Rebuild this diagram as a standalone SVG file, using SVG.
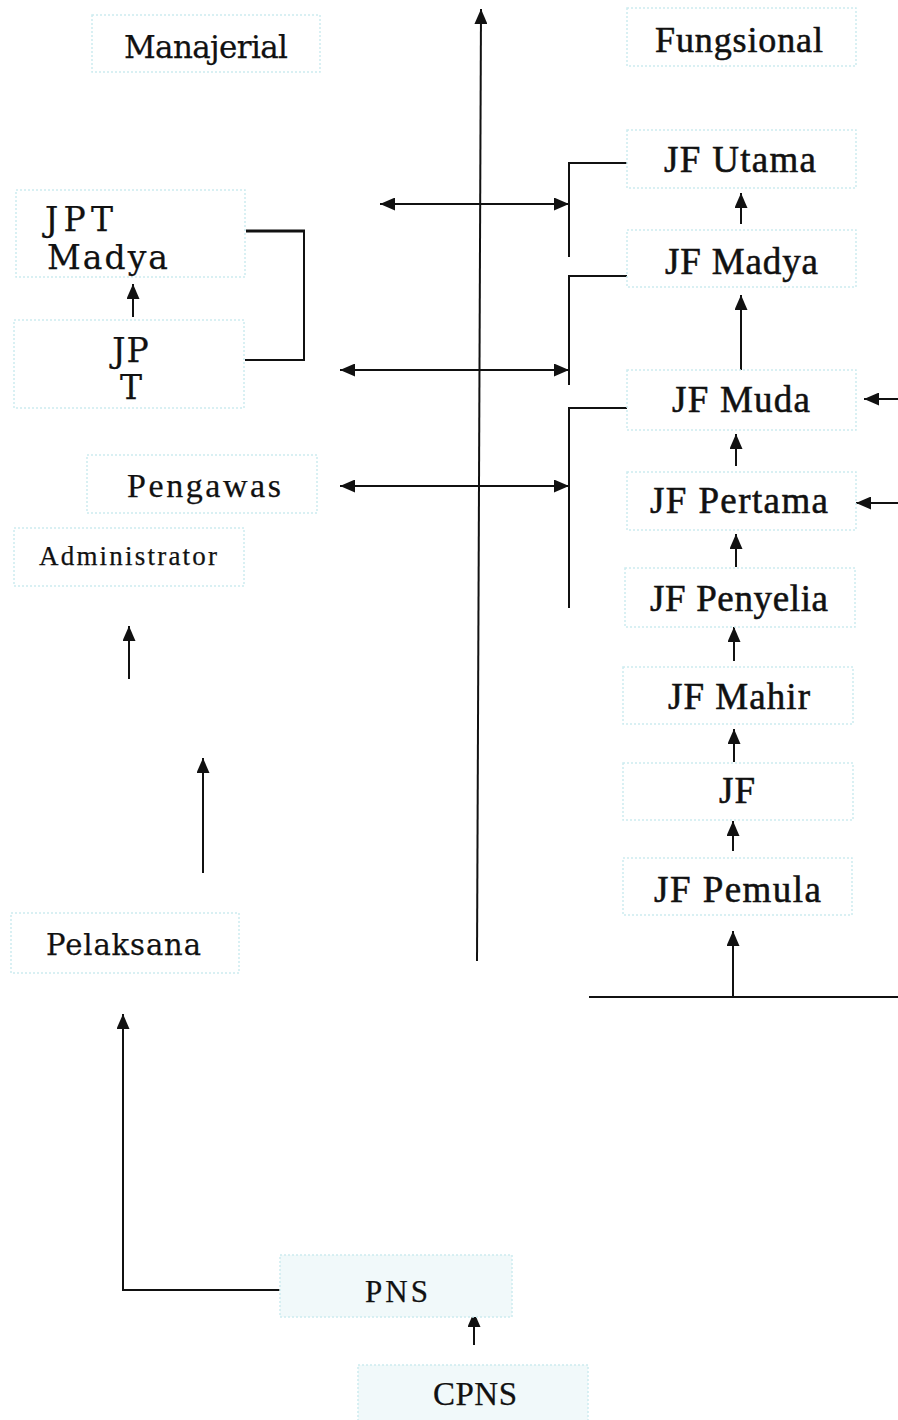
<svg xmlns="http://www.w3.org/2000/svg" width="898" height="1420" viewBox="0 0 898 1420">
<style>
.box{fill:#ffffff;stroke:#cdebf0;stroke-width:1.5;stroke-dasharray:2 2}
.boxf{fill:#f1f9fa;stroke:#cdebf0;stroke-width:1.5;stroke-dasharray:2 2}
.ln{fill:none;stroke:#111;stroke-width:2}
.bk{font-family:"DejaVu Serif","Liberation Serif",serif;fill:#111;stroke:#111;stroke-width:0.25}
.cb{font-family:"Liberation Serif","DejaVu Serif",serif;fill:#111;stroke:#111;stroke-width:0.55}
</style>
<defs>
<marker id="ah" viewBox="0 0 15 13" refX="15" refY="6.5" markerWidth="15" markerHeight="13" markerUnits="userSpaceOnUse" orient="auto-start-reverse">
<path d="M0,0 L15,6.5 L0,13 z" fill="#111"/>
</marker>
</defs>

<g id="connectors">
<line class="ln" x1="477" y1="961" x2="481" y2="9" marker-end="url(#ah)"/>
<line class="ln" x1="380" y1="204" x2="569" y2="204" marker-start="url(#ah)" marker-end="url(#ah)"/>
<line class="ln" x1="340" y1="370" x2="569" y2="370" marker-start="url(#ah)" marker-end="url(#ah)"/>
<line class="ln" x1="340" y1="486" x2="569" y2="486" marker-start="url(#ah)" marker-end="url(#ah)"/>
<polyline class="ln" points="627,163 569,163 569,257"/>
<polyline class="ln" points="627,276 569,276 569,385"/>
<polyline class="ln" points="627,408 569,408 569,608"/>
<line class="ln" x1="246" y1="231" x2="305" y2="231" style="stroke-width:3"/>
<polyline class="ln" points="304,231 304,360 245,360"/>
<line class="ln" x1="741" y1="224" x2="741" y2="193" marker-end="url(#ah)"/>
<line class="ln" x1="741" y1="370" x2="741" y2="295" marker-end="url(#ah)"/>
<line class="ln" x1="736" y1="466" x2="736" y2="434" marker-end="url(#ah)"/>
<line class="ln" x1="736" y1="567" x2="736" y2="534" marker-end="url(#ah)"/>
<line class="ln" x1="734" y1="661" x2="734" y2="627" marker-end="url(#ah)"/>
<line class="ln" x1="734" y1="762" x2="734" y2="729" marker-end="url(#ah)"/>
<line class="ln" x1="733" y1="851" x2="733" y2="821" marker-end="url(#ah)"/>
<line class="ln" x1="733" y1="996" x2="733" y2="931" marker-end="url(#ah)"/>
<line class="ln" x1="589" y1="997" x2="898" y2="997"/>
<line class="ln" x1="898" y1="399" x2="864" y2="399" marker-end="url(#ah)"/>
<line class="ln" x1="898" y1="503" x2="856" y2="503" marker-end="url(#ah)"/>
<line class="ln" x1="133" y1="317" x2="133" y2="284" marker-end="url(#ah)"/>
<line class="ln" x1="129" y1="679" x2="129" y2="626" marker-end="url(#ah)"/>
<line class="ln" x1="203" y1="873" x2="203" y2="758" marker-end="url(#ah)"/>
<polyline class="ln" points="280,1290 123,1290 123,1014" marker-end="url(#ah)"/>
<line class="ln" x1="474" y1="1345" x2="474" y2="1312" marker-end="url(#ah)"/>
</g>

<g id="manajerial">
<rect class="box" x="92" y="15" width="228" height="57"/>
<text class="bk" x="124" y="58" font-size="31" textLength="164" lengthAdjust="spacing">Manajerial</text>
</g>
<g id="fungsional">
<rect class="box" x="627" y="8" width="229" height="58"/>
<text class="cb" x="655" y="52" font-size="36" textLength="168" lengthAdjust="spacing">Fungsional</text>
</g>

<g id="jpt-madya">
<rect class="box" x="16" y="190" width="229" height="87"/>
<text class="bk" x="45" y="231" font-size="33" textLength="68" lengthAdjust="spacing">JPT</text>
<text class="bk" x="47" y="269" font-size="33" textLength="121" lengthAdjust="spacing">Madya</text>
</g>
<g id="jpt">
<rect class="box" x="14" y="320" width="230" height="88"/>
<text class="bk" x="131" y="362" font-size="33" text-anchor="middle" letter-spacing="1">JP</text>
<text class="bk" x="131" y="399" font-size="33" text-anchor="middle">T</text>
</g>
<g id="pengawas">
<rect class="box" x="87" y="455" width="230" height="58"/>
<text class="cb" x="127" y="497" font-size="34" textLength="154" lengthAdjust="spacing" style="stroke-width:0.25">Pengawas</text>
</g>
<g id="administrator">
<rect class="box" x="14" y="528" width="230" height="58"/>
<text class="cb" x="39" y="565" font-size="27" textLength="178" lengthAdjust="spacing" style="stroke-width:0.25">Administrator</text>
</g>
<g id="pelaksana">
<rect class="box" x="11" y="913" width="228" height="60"/>
<text class="bk" x="46" y="955" font-size="29" textLength="155" lengthAdjust="spacing">Pelaksana</text>
</g>

<g id="jf-utama">
<rect class="box" x="627" y="130" width="229" height="58"/>
<text class="cb" x="664" y="172" font-size="37" textLength="152" lengthAdjust="spacing">JF Utama</text>
</g>
<g id="jf-madya">
<rect class="box" x="627" y="230" width="229" height="57"/>
<text class="cb" x="665" y="274" font-size="37" textLength="153" lengthAdjust="spacing">JF Madya</text>
</g>
<g id="jf-muda">
<rect class="box" x="627" y="370" width="229" height="60"/>
<text class="cb" x="672" y="412" font-size="37" textLength="138" lengthAdjust="spacing">JF Muda</text>
</g>
<g id="jf-pertama">
<rect class="box" x="627" y="472" width="229" height="58"/>
<text class="cb" x="650" y="513" font-size="37" textLength="178" lengthAdjust="spacing">JF Pertama</text>
</g>
<g id="jf-penyelia">
<rect class="box" x="625" y="568" width="230" height="59"/>
<text class="cb" x="650" y="611" font-size="37" textLength="178" lengthAdjust="spacing">JF Penyelia</text>
</g>
<g id="jf-mahir">
<rect class="box" x="623" y="667" width="230" height="57"/>
<text class="cb" x="668" y="709" font-size="37" textLength="142" lengthAdjust="spacing">JF Mahir</text>
</g>
<g id="jf">
<rect class="box" x="623" y="763" width="230" height="57"/>
<text class="cb" x="719" y="803" font-size="37" textLength="36" lengthAdjust="spacing">JF</text>
</g>
<g id="jf-pemula">
<rect class="box" x="623" y="858" width="229" height="57"/>
<text class="cb" x="654" y="902" font-size="37" textLength="167" lengthAdjust="spacing">JF Pemula</text>
</g>

<g id="pns">
<rect class="boxf" x="280" y="1255" width="232" height="62"/>
<text class="cb" x="365" y="1302" font-size="31" textLength="63" lengthAdjust="spacing" style="stroke-width:0.25">PNS</text>
</g>
<g id="cpns">
<rect class="boxf" x="358" y="1365" width="230" height="60"/>
<text class="cb" x="433" y="1405" font-size="33" textLength="84" lengthAdjust="spacing" style="stroke-width:0.25">CPNS</text>
</g>
</svg>
